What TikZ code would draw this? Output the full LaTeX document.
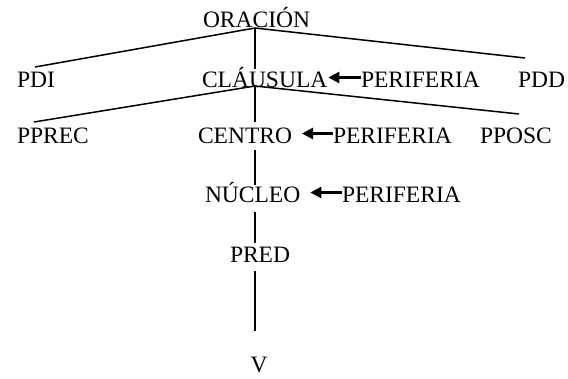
\documentclass[tikz,border=0pt]{standalone}
\usepackage{fontspec}
\setmainfont{Liberation Serif}
\usetikzlibrary{arrows.meta}
\begin{document}
\begin{tikzpicture}[x=1pt,y=-1pt,
  lbl/.style={inner sep=0pt,outer sep=0pt,anchor=base west,font=\fontsize{23.5}{28}\selectfont},
  branch/.style={line width=1.5pt},
  periarrow/.style={line width=2.6pt,-{Triangle[length=11pt,width=11pt]}}]
\useasboundingbox (0,0) rectangle (568,378);
% nodes
\node[lbl] (ora) at (203,27) {ORACIÓN};
\node[lbl] (pdi) at (17,87) {PDI};
\node[lbl] (cla) at (202,87) {CLÁUSULA};
\node[lbl] (per1) at (361,87) {PERIFERIA};
\node[lbl] (pdd) at (518,87) {PDD};
\node[lbl] (pprec) at (17,143) {PPREC};
\node[lbl] (centro) at (198,143) {CENTRO};
\node[lbl] (per2) at (333,143) {PERIFERIA};
\node[lbl] (pposc) at (480,143) {PPOSC};
\node[lbl] (nuc) at (205,202) {NÚCLEO};
\node[lbl] (per3) at (342,202) {PERIFERIA};
\node[lbl] (pred) at (230,262) {PRED};
\node[lbl,anchor=base] (v) at (259,372) {V};
% junctions and line ends
\coordinate (j1) at (255,28);
\coordinate (j1pdi) at (35,67);
\coordinate (j1pdd) at (525,58);
\coordinate (j1cla) at (255,69);
\coordinate (j2) at (255,86);
\coordinate (j2pprec) at (34,122);
\coordinate (j2pposc) at (519,114);
\coordinate (j2cen) at (255,122);
\coordinate (c1) at (255,150);
\coordinate (c2) at (255,185);
\coordinate (n1) at (255,212);
\coordinate (n2) at (255,243);
\coordinate (p1) at (255,271);
\coordinate (p2) at (255,331);
% branches
\draw[branch] (j1pdi) -- (j1) -- (j1pdd);
\draw[branch] (j1) -- (j1cla);
\draw[branch] (j2pprec) -- (j2) -- (j2pposc);
\draw[branch] (j2) -- (j2cen);
\draw[branch] (c1) -- (c2);
\draw[branch] (n1) -- (n2);
\draw[branch] (p1) -- (p2);
% periphery arrows
\draw[periarrow] ([yshift=9.5pt]per1.base west) -- ([yshift=9.5pt,xshift=1pt]cla.base east);
\draw[periarrow] ([yshift=9.5pt]per2.base west) -- ([yshift=9.5pt,xshift=10pt]centro.base east);
\draw[periarrow] ([yshift=9.5pt]per3.base west) -- ([yshift=9.5pt,xshift=10pt]nuc.base east);
\end{tikzpicture}
\end{document}
